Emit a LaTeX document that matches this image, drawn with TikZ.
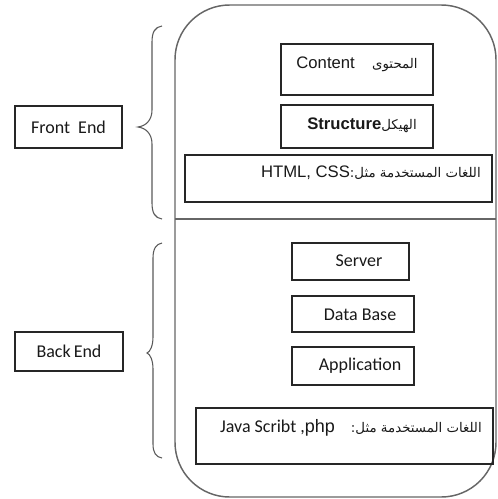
\documentclass[tikz,border=0pt]{standalone}
\usepackage{fontspec}
\usetikzlibrary{fit}
\setmainfont{Carlito}
\newfontfamily\arial{Liberation Sans}
\newfontfamily\arabicfont[Script=Arabic]{DejaVu Sans}
\TeXXeTstate=1
\newcommand{\ar}[1]{{\arabicfont\fontsize{10}{12}\selectfont\beginR #1\endR}}

\begin{document}
\begin{tikzpicture}[x=0.75pt,y=-0.75pt,
  box/.style={draw=black!85,line width=0.9pt,inner sep=0pt},
  lbl/.style={inner sep=0pt,text=black!90,font=\fontsize{13.5}{16}\selectfont},
  alb/.style={inner sep=0pt,text=black!90,font=\arial\fontsize{12.5}{15}\selectfont},
  frame/.style={draw=black!60,line width=1.1pt},
  brace/.style={draw=black!65,line width=0.8pt}]
\useasboundingbox (0,0) rectangle (497,499);

% outer rounded frame and the front/back divider
\draw[frame,rounded corners=41pt] (175,5) rectangle (496,497);
\draw[frame] (175,219) -- (496,219);

% left-hand labels
\node[box,fit={(15,106) (122,148)}] (front) {};
\node[lbl] (frontT) at (front.center) {Front\ \ End};
\node[box,fit={(15,332) (123,371)}] (back) {};
\node[lbl] (backT) at (back.center) {Back\,End};

% curly braces
\draw[brace] (162,26) .. controls (155,27) and (152,32) .. (152,42)
  -- (152,110) .. controls (152,120) and (146,126) .. (138,127)
  .. controls (146,128) and (152,134) .. (152,144)
  -- (152,203) .. controls (152,213) and (155,218) .. (162,219);
\draw[brace] (162,243) .. controls (156,244) and (153,249) .. (153,258)
  -- (153,337) .. controls (153,346) and (150,352) .. (147,353)
  .. controls (150,354) and (153,360) .. (153,369)
  -- (153,444) .. controls (153,453) and (156,457) .. (162,458);

% front end boxes
\node[box,fit={(281,44) (433,95)}] (content) {};
\node[alb] (contentT) at (357,64) {Content\hspace{13pt}\ar{المحتوى}};
\node[box,fit={(281,105) (433,148)}] (struct) {};
\node[alb] (structT) at (362,125) {\textbf{Structure}\ar{الهيكل}};
\node[box,fit={(185,155) (492,202)}] (html) {};
\node[alb,anchor=east] (htmlT) at (481,173) {HTML, CSS\ar{اللغات المستخدمة مثل:}};

% back end boxes
\node[box,fit={(292,243) (409,280)}] (server) {};
\node[lbl] (serverT) at (359,261) {Server};
\node[box,fit={(292,296) (414,332)}] (db) {};
\node[lbl] (dbT) at (360,315) {Data Base};
\node[box,fit={(292,347) (414,385)}] (app) {};
\node[lbl] (appT) at (360,366) {Application};
\node[box,fit={(196,408) (493,464)}] (java) {};
\node[lbl,anchor=east] (javaT) at (482,428) {Java Scribt ,{\arial php}\hspace{12pt}\ar{اللغات المستخدمة مثل:}};
\end{tikzpicture}
\end{document}
